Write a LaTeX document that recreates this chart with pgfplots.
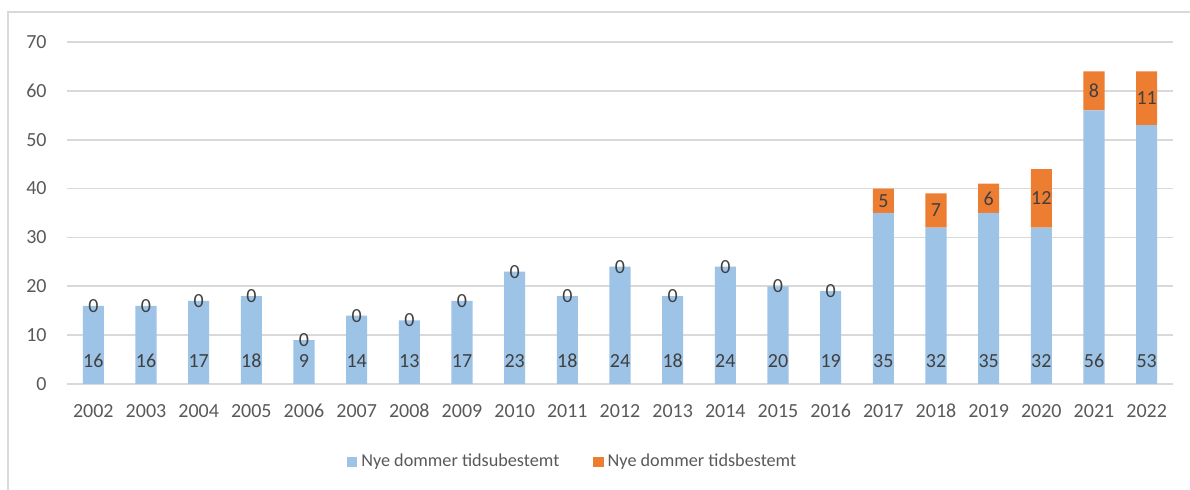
\documentclass[border=0pt]{standalone}
\usepackage{pgfplots}
\pgfplotsset{compat=1.18}
\usepackage{pgfplotstable}
\usepackage{fontspec}
\setmainfont{Carlito}
\definecolor{cblue}{HTML}{9DC3E6}
\definecolor{corange}{HTML}{ED7D31}
\definecolor{gridgrey}{HTML}{D9D9D9}
\definecolor{ticktext}{HTML}{595959}
\definecolor{labtext}{HTML}{404040}
% x, year, blue value, orange value, y position of blue label, y position of orange label
\pgfplotstableread{
x year blue orange by oy
0 2002 16 0 4.7 16
1 2003 16 0 4.7 16
2 2004 17 0 4.7 17
3 2005 18 0 4.7 18
4 2006 9 0 4.7 9
5 2007 14 0 4.7 14
6 2008 13 0 4.7 13
7 2009 17 0 4.7 17
8 2010 23 0 4.7 23
9 2011 18 0 4.7 18
10 2012 24 0 4.7 24
11 2013 18 0 4.7 18
12 2014 24 0 4.7 24
13 2015 20 0 4.7 20
14 2016 19 0 4.7 19
15 2017 35 5 4.7 37.5
16 2018 32 7 4.7 35.5
17 2019 35 6 4.7 38
18 2020 32 12 4.7 38
19 2021 56 8 4.7 60
20 2022 53 11 4.7 58.5
}\datatable
\begin{document}
\fontsize{10}{12}\selectfont
\begin{tikzpicture}
\path[use as bounding box] (0,0) rectangle (595pt,245pt);
\draw[gridgrey, line width=0.6pt] (4pt,0) -- (4pt,239pt) -- (595pt,239pt);
\begin{axis}[
  at={(33.5pt,53pt)}, anchor=south west,
  width=553pt, height=171pt, scale only axis,
  ybar stacked, bar width=0.4,
  xmin=-0.5, xmax=20.5, ymin=0, ymax=70,
  ytick={0,10,...,70},
  xtick={0,...,20},
  xticklabels={2002,2003,2004,2005,2006,2007,2008,2009,2010,2011,2012,2013,2014,2015,2016,2017,2018,2019,2020,2021,2022},
  major tick length=0pt,
  axis line style={draw=none},
  ymajorgrids,
  major grid style={draw=gridgrey, line width=0.8pt},
  /pgf/number format/assume math mode=true,
  tick label style={font=\fontsize{10}{12}\selectfont, text=ticktext},
  yticklabel style={inner sep=0pt, anchor=east, xshift=-10pt},
  xticklabel style={inner sep=0pt, anchor=center, yshift=-13.5pt},
  clip=false,
  legend columns=2,
  legend style={at={(0.458,-0.228)}, anchor=center, draw=none, fill=none,
    font=\fontsize{9.1}{11}\selectfont, text=ticktext,
    /tikz/every even column/.append style={column sep=15pt},
    inner sep=0pt},
  legend image code/.code={\fill[#1, draw=none] (0pt,-2.6pt) rectangle (5.2pt,2.6pt);},
]
\addplot[fill=cblue, draw=none] table[x=x, y=blue] {\datatable};
\addlegendentry{Nye dommer tidsubestemt}
\addplot[fill=corange, draw=none] table[x=x, y=orange] {\datatable};
\addlegendentry{Nye dommer tidsbestemt}
\end{axis}
\begin{axis}[
  at={(33.5pt,53pt)}, anchor=south west,
  width=553pt, height=171pt, scale only axis,
  xmin=-0.5, xmax=20.5, ymin=0, ymax=70,
  hide axis, clip=false,
  /pgf/number format/assume math mode=true,
  point meta=explicit,
  nodes near coords,
  nodes near coords style={anchor=center, inner sep=0pt, text=labtext, font=\fontsize{10}{12}\selectfont},
]
\addplot[only marks, mark=none] table[x=x, y=by, meta=blue] {\datatable};
\addplot[only marks, mark=none] table[x=x, y=oy, meta=orange] {\datatable};
\end{axis}
\end{tikzpicture}
\end{document}
